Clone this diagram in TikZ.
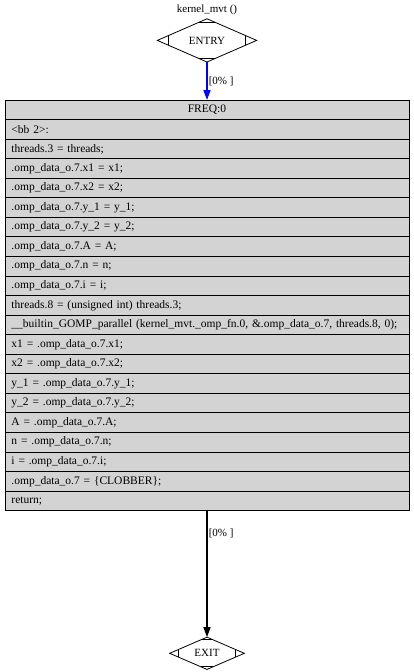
\documentclass[tikz,border=0pt]{standalone}
\usepackage{fontspec}
\setmainfont{Liberation Serif}
\usepackage{tikz}
\usepackage{xcolor}
\usetikzlibrary{positioning,shapes.geometric,arrows.meta,calc}
\definecolor{bbgray}{HTML}{D3D3D3}
\tikzstyle{stmt} = [rectangle, draw, fill=bbgray, line width=0.8pt, minimum width=404pt, minimum height=19.55pt, text width=391pt, align=left, inner xsep=6.5pt, inner ysep=0pt, outer sep=0pt, font=\fontsize{11.5}{13}\selectfont]
\tikzstyle{mdiam} = [diamond, draw, fill=white, line width=0.8pt, inner sep=0pt, outer sep=0pt]
\tikzstyle{flow} = [->, line width=1.6pt]
% marks near the corners of an Mdiamond
\newcommand{\mdmarks}[1]{%
  \draw[line width=0.8pt] ($(#1.west)!0.23!(#1.north)$) -- ($(#1.west)!0.23!(#1.south)$);
  \draw[line width=0.8pt] ($(#1.east)!0.23!(#1.north)$) -- ($(#1.east)!0.23!(#1.south)$);
  \draw[line width=0.8pt] ($(#1.north)!0.16!(#1.west)$) -- ($(#1.north)!0.16!(#1.east)$);
  \draw[line width=0.8pt] ($(#1.south)!0.16!(#1.west)$) -- ($(#1.south)!0.16!(#1.east)$);
}

\begin{document}
\begin{tikzpicture}[x=1pt,y=1pt,>={Triangle[length=10pt,width=7pt]},font=\fontsize{11}{13}\selectfont]
  \useasboundingbox (0,0) rectangle (414,-672);
  \node (title) at (207,-10) {kernel\_mvt ()};
  \node[mdiam, minimum width=99.3pt, minimum height=29.3pt] (entry) at (207,-40.4) {ENTRY};
  \mdmarks{entry}

  \node[stmt, align=center] (freq) at (207,-109.8) {FREQ:0};
  \node[stmt] (bb) [below=0pt of freq] {<bb 2>:};
  \node[stmt] (thr) [below=0pt of bb] {threads.3 = threads;};
  \node[stmt] (ox1) [below=0pt of thr] {.omp\_data\_o.7.x1 = x1;};
  \node[stmt] (ox2) [below=0pt of ox1] {.omp\_data\_o.7.x2 = x2;};
  \node[stmt] (oy1) [below=0pt of ox2] {.omp\_data\_o.7.y\_1 = y\_1;};
  \node[stmt] (oy2) [below=0pt of oy1] {.omp\_data\_o.7.y\_2 = y\_2;};
  \node[stmt] (oA) [below=0pt of oy2] {.omp\_data\_o.7.A = A;};
  \node[stmt] (on) [below=0pt of oA] {.omp\_data\_o.7.n = n;};
  \node[stmt] (oi) [below=0pt of on] {.omp\_data\_o.7.i = i;};
  \node[stmt] (thr8) [below=0pt of oi] {threads.8 = (unsigned int) threads.3;};
  \node[stmt] (gomp) [below=0pt of thr8] {\_\_builtin\_GOMP\_parallel (kernel\_mvt.\_omp\_fn.0, \&.omp\_data\_o.7, threads.8, 0);};
  \node[stmt] (ix1) [below=0pt of gomp] {x1 = .omp\_data\_o.7.x1;};
  \node[stmt] (ix2) [below=0pt of ix1] {x2 = .omp\_data\_o.7.x2;};
  \node[stmt] (iy1) [below=0pt of ix2] {y\_1 = .omp\_data\_o.7.y\_1;};
  \node[stmt] (iy2) [below=0pt of iy1] {y\_2 = .omp\_data\_o.7.y\_2;};
  \node[stmt] (iA) [below=0pt of iy2] {A = .omp\_data\_o.7.A;};
  \node[stmt] (in) [below=0pt of iA] {n = .omp\_data\_o.7.n;};
  \node[stmt] (ii) [below=0pt of in] {i = .omp\_data\_o.7.i;};
  \node[stmt] (clob) [below=0pt of ii] {.omp\_data\_o.7 = \{CLOBBER\};};
  \node[stmt] (ret) [below=0pt of clob] {return;};

  \node[mdiam, minimum width=74.7pt, minimum height=30pt] (exit) at (207,-653.3) {EXIT};
  \mdmarks{exit}

  \draw[flow, blue] (entry) -- node[right, inner sep=1pt, black] {[0\% ]} (freq);
  \draw[flow] (ret) -- node[right, pos=0.18, inner sep=1pt] {[0\% ]} (exit);
\end{tikzpicture}
\end{document}
